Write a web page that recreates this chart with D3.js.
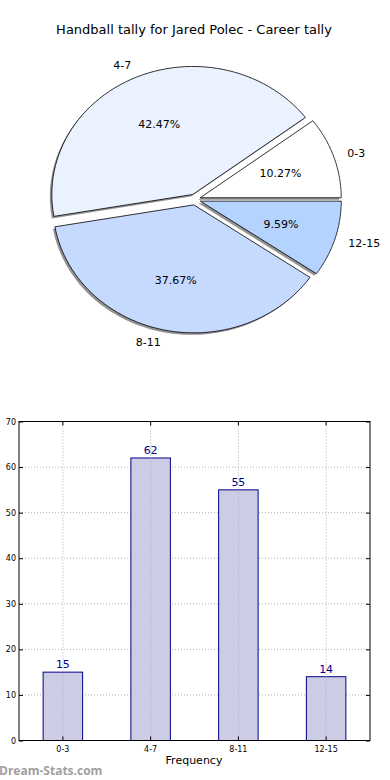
<!DOCTYPE html>
<html>
<head>
<meta charset="utf-8">
<script src="https://cdn.jsdelivr.net/npm/d3@7"></script>
<style>
  body { margin: 0; background: #fff; }
  svg { display: block; font-family: "DejaVu Sans", sans-serif; }
</style>
</head>
<body>
<div id="chart"></div>
<script>
// data
const categories = ['0-3', '4-7', '8-11', '12-15'];
const counts = [15, 62, 55, 14];
const sliceColors = ['#ffffff', '#eaf1ff', '#c6d9ff', '#b4d4ff'];
const yTicks = [0, 10, 20, 30, 40, 50, 60, 70];

const W = 390, H = 780;
const svg = d3.select('#chart').append('svg')
    .attr('width', W)
    .attr('height', H);

// title
svg.append('text')
    .attr('x', 194)
    .attr('y', 34)
    .attr('text-anchor', 'middle')
    .style('font-size', '13px')
    .text('Handball tally for Jared Polec - Career tally');

// ---------- PIE ----------
const total = d3.sum(counts);
const cx = 195, cy = 199.5;
const rx = 141, ry = 128;
const explode = 5.5;

// d3.pie gives cumulative angles from 0; used here as matplotlib angles (3 o'clock, ccw)
let pieData = d3.pie().sort(null)(counts);

// angle -> screen offset on the ellipse
function pt(theta, f) {
    return [Math.cos(theta) * rx * f, -Math.sin(theta) * ry * f];
}

function slicePath(a0, a1) {
    let path = d3.path();
    path.moveTo(0, 0);
    let steps = 60;
    for (let i = 0; i <= steps; i++) {
        let t = a0 + (a1 - a0) * i / steps;
        let p = pt(t, 1);
        path.lineTo(p[0], p[1]);
    }
    path.closePath();
    return path.toString();
}

let slices = pieData.map(function(d, i) {
    let mid = (d.startAngle + d.endAngle) / 2;
    let off = [Math.cos(mid) * explode, -Math.sin(mid) * explode];
    return {name: categories[i], value: d.data, a0: d.startAngle, a1: d.endAngle, mid: mid, off: off, color: sliceColors[i]};
});

let pieG = svg.append('g').attr('transform', `translate(${cx},${cy})`);

// shadows first
pieG.selectAll('path.shadow')
    .data(slices)
    .enter()
    .append('path')
    .attr('class', 'shadow')
    .attr('d', function(d){ return slicePath(d.a0, d.a1); })
    .attr('transform', function(d){ return `translate(${d.off[0] - 2},${d.off[1] + 2})`; })
    .attr('fill', '#6e6e6e')
    .attr('fill-opacity', 0.75);

pieG.selectAll('path.slice')
    .data(slices)
    .enter()
    .append('path')
    .attr('class', 'slice')
    .attr('d', function(d){ return slicePath(d.a0, d.a1); })
    .attr('transform', function(d){ return `translate(${d.off[0]},${d.off[1]})`; })
    .attr('fill', function(d){ return d.color; })
    .attr('stroke', '#000')
    .attr('stroke-width', 0.8);

// category labels
pieG.selectAll('text.lab')
    .data(slices)
    .enter()
    .append('text')
    .attr('class', 'lab')
    .attr('x', function(d){ return pt(d.mid, 1.1)[0] + d.off[0]; })
    .attr('y', function(d){ return pt(d.mid, 1.1)[1] + d.off[1]; })
    .attr('dy', '0.35em')
    .attr('text-anchor', function(d){ return Math.cos(d.mid) >= 0 ? 'start' : 'end'; })
    .style('font-size', '11px')
    .text(function(d){ return d.name; });

// percentage labels
pieG.selectAll('text.pct')
    .data(slices)
    .enter()
    .append('text')
    .attr('class', 'pct')
    .attr('x', function(d){ return pt(d.mid, 0.6)[0] + d.off[0]; })
    .attr('y', function(d){ return pt(d.mid, 0.6)[1] + d.off[1]; })
    .attr('dy', '0.35em')
    .attr('text-anchor', 'middle')
    .style('font-size', '11px')
    .text(function(d){ return (d.value / total * 100).toFixed(2) + '%'; });

// ---------- BAR ----------
const pLeft = 19, pRight = 370, pTop = 421.5, pBottom = 740.5;

let x = d3.scaleBand()
    .domain(categories)
    .range([pLeft, pRight])
    .paddingInner(0.55)
    .paddingOuter(0.275);

let y = d3.scaleLinear()
    .domain([0, 70])
    .range([pBottom, pTop]);

let barG = svg.append('g');

// horizontal grid
barG.selectAll('line.hgrid')
    .data(yTicks.slice(1, -1))
    .enter()
    .append('line')
    .attr('x1', pLeft).attr('x2', pRight)
    .attr('y1', function(d){ return y(d); })
    .attr('y2', function(d){ return y(d); })
    .attr('stroke', '#b0b0b0')
    .attr('stroke-dasharray', '1,2');

barG.selectAll('rect')
    .data(counts)
    .enter()
    .append('rect')
    .attr('x', function(d, i){ return x(categories[i]); })
    .attr('y', function(d){ return y(d); })
    .attr('width', x.bandwidth())
    .attr('height', function(d){ return pBottom - y(d); })
    .attr('fill', '#cccce4')
    .attr('stroke', '#00008b')
    .attr('stroke-width', 1);

// vertical grid on top of bars
barG.selectAll('line.vgrid')
    .data(categories)
    .enter()
    .append('line')
    .attr('x1', function(d){ return x(d) + x.bandwidth() / 2; })
    .attr('x2', function(d){ return x(d) + x.bandwidth() / 2; })
    .attr('y1', pTop).attr('y2', pBottom)
    .attr('stroke', '#a8a8b8')
    .attr('stroke-dasharray', '1,2');

// value labels
barG.selectAll('text.val')
    .data(counts)
    .enter()
    .append('text')
    .attr('x', function(d, i){ return x(categories[i]) + x.bandwidth() / 2; })
    .attr('y', function(d){ return y(d) - 4; })
    .attr('text-anchor', 'middle')
    .attr('fill', '#00008b')
    .style('font-size', '11px')
    .text(function(d){ return d; });

// frame
barG.append('rect')
    .attr('x', pLeft).attr('y', pTop)
    .attr('width', pRight - pLeft).attr('height', pBottom - pTop)
    .attr('fill', 'none')
    .attr('stroke', '#000')
    .attr('stroke-width', 1);

// axes, ticks pointing inward like matplotlib
let gy = svg.append('g').attr('transform', `translate(${pLeft},0)`)
    .call(d3.axisLeft(y).tickValues(yTicks).tickSize(-4).tickPadding(3));
gy.select('.domain').remove();
gy.selectAll('text').style('font-size', '8px').style('font-family', '"DejaVu Sans", sans-serif');

let gyr = svg.append('g').attr('transform', `translate(${pRight},0)`)
    .call(d3.axisRight(y).tickValues(yTicks).tickSize(-4).tickFormat(''));
gyr.select('.domain').remove();

let gx = svg.append('g').attr('transform', `translate(0,${pBottom})`)
    .call(d3.axisBottom(x).tickSize(-4).tickPadding(6));
gx.select('.domain').remove();
gx.selectAll('text').style('font-size', '8px').style('font-family', '"DejaVu Sans", sans-serif');

let gxt = svg.append('g').attr('transform', `translate(0,${pTop})`)
    .call(d3.axisTop(x).tickSize(-4).tickFormat(''));
gxt.select('.domain').remove();

svg.append('text')
    .attr('x', 194)
    .attr('y', 764)
    .attr('text-anchor', 'middle')
    .style('font-size', '11px')
    .text('Frequency');

// watermark
svg.append('text')
    .attr('x', -1)
    .attr('y', 775)
    .attr('fill', '#a0a0a0')
    .style('font-size', '12px')
    .style('font-weight', 'bold')
    .style('font-family', '"Open Sans", sans-serif')
    .text('Dream-Stats.com');
</script>
</body>
</html>
